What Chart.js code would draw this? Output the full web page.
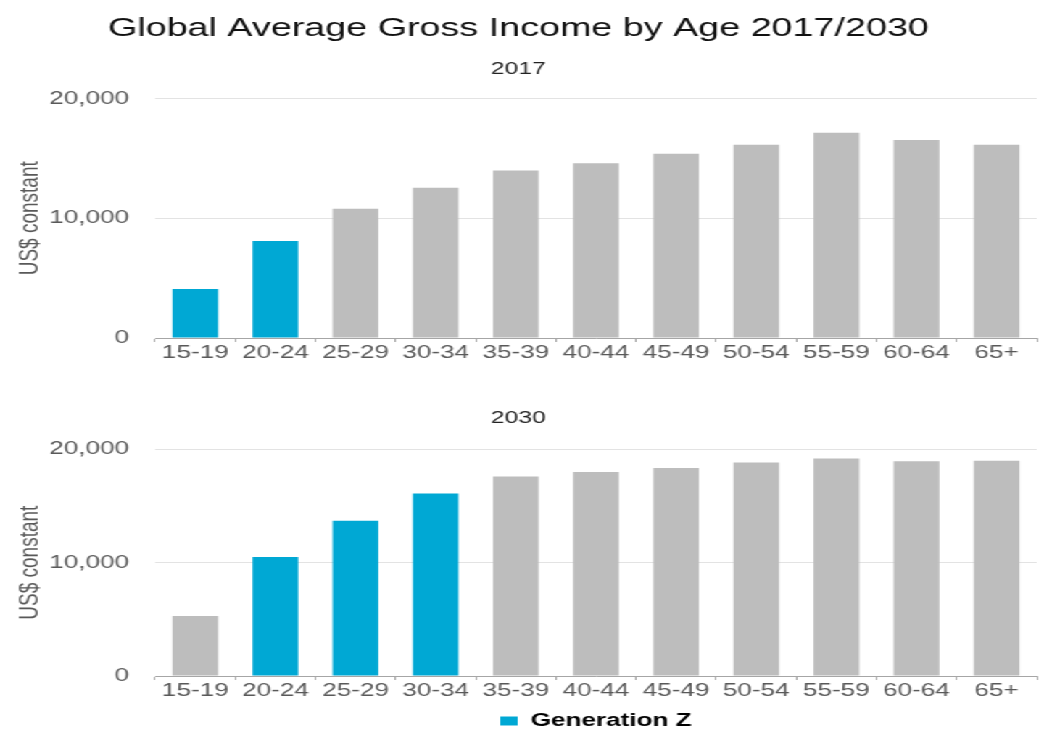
<!DOCTYPE html>
<html>
<head>
<meta charset="utf-8">
<title>Global Average Gross Income by Age 2017/2030</title>
<script src="https://cdn.jsdelivr.net/npm/chart.js@4.4.1/dist/chart.umd.min.js"></script>
<style>
    html, body { margin: 0; padding: 0; background: #fff; overflow: hidden; }
    /* the source picture is stretched sideways, so the page is drawn narrow and widened */
    #page { position: absolute; left: 0; top: 0; width: 717px; height: 740px; transform: scaleX(1.45); transform-origin: 0 0; }
    .box { position: absolute; left: 0; width: 717px; }
    #box2017 { top: 0; height: 375px; }
    #box2030 { top: 380px; height: 360px; }
</style>
</head>
<body>
<div id="page">
    <div class="box" id="box2017"><canvas id="chart2017"></canvas></div>
    <div class="box" id="box2030"><canvas id="chart2030"></canvas></div>
</div>
<script>
const ageGroups = ['15-19', '20-24', '25-29', '30-34', '35-39', '40-44', '45-49', '50-54', '55-59', '60-64', '65+'];
const income2017 = [4100, 8100, 10800, 12550, 14000, 14600, 15400, 16150, 17150, 16550, 16150];
const income2030 = [5300, 10500, 13700, 16100, 17600, 18000, 18350, 18850, 19200, 18950, 19000];
const genZ2017 = ['15-19', '20-24'];
const genZ2030 = ['20-24', '25-29', '30-34'];
const yTicks = [0, 10000, 20000];

const blue = '#00a8d4';
const grey = '#bdbdbd';

Chart.defaults.font.family = "'Liberation Sans', Arial, sans-serif";
Chart.defaults.animation = false;

function barColors(genZ){
    return ageGroups.map(function(a){
        return genZ.indexOf(a) > -1 ? blue : grey;
    });
}

function makeChart(id, values, genZ, axisHeight, plugins){
    return new Chart(document.getElementById(id), {
        type: 'bar',
        data: {
            labels: ageGroups,
            datasets: [{
                data: values,
                backgroundColor: barColors(genZ),
                borderWidth: 0,
                barPercentage: 0.57,
                categoryPercentage: 1
            }]
        },
        options: {
            responsive: true,
            maintainAspectRatio: false,
            layout: {padding: {left: 0, right: 2, top: 0, bottom: 0}},
            scales: {
                x: {
                    grid: {display: true, drawOnChartArea: false, drawTicks: true, tickLength: 4, color: '#a6a6a6', offset: true},
                    border: {display: true, color: '#a6a6a6'},
                    ticks: {color: '#595959', font: {size: 18}, padding: 0, maxRotation: 0},
                    afterFit: function(scale){ scale.height = axisHeight; }
                },
                y: {
                    min: yTicks[0],
                    max: yTicks[yTicks.length - 1],
                    afterBuildTicks: function(scale){
                        scale.ticks = yTicks.map(function(v){ return {value: v}; });
                    },
                    grid: {color: '#e3e3e3', drawTicks: false},
                    border: {display: false},
                    ticks: {
                        color: '#595959',
                        font: {size: 18},
                        padding: 18,
                        callback: function(v){ return v.toLocaleString('en-US'); }
                    },
                    title: {
                        display: true,
                        text: 'US$ constant',
                        color: '#595959',
                        font: {size: 19},
                        padding: {top: 9, bottom: 0}
                    },
                    afterFit: function(scale){ scale.width = 107; }
                }
            },
            plugins: plugins
        }
    });
}

makeChart('chart2017', income2017, genZ2017, 37, {
    legend: {display: false},
    tooltip: {enabled: false},
    title: {
        display: true,
        text: 'Global Average Gross Income by Age 2017/2030',
        color: '#111',
        font: {size: 26, weight: 'normal'},
        padding: {top: 13, bottom: 15}
    },
    subtitle: {
        display: true,
        text: '2017',
        color: '#222',
        font: {size: 17},
        padding: {top: 0, bottom: 19}
    }
});

makeChart('chart2030', income2030, genZ2030, 30, {
    tooltip: {enabled: false},
    title: {
        display: true,
        text: '2030',
        color: '#222',
        font: {size: 17, weight: 'normal'},
        padding: {top: 28, bottom: 21}
    },
    legend: {
        display: true,
        position: 'bottom',
        fullSize: false,
        onClick: null,
        labels: {
            boxWidth: 12,
            boxHeight: 9,
            padding: 6,
            color: '#333',
            font: {size: 18, weight: 'bold'},
            generateLabels: function(){
                return [{text: 'Generation Z', fillStyle: blue, strokeStyle: blue, lineWidth: 0, hidden: false, datasetIndex: 0}];
            }
        }
    }
});
</script>
</body>
</html>
